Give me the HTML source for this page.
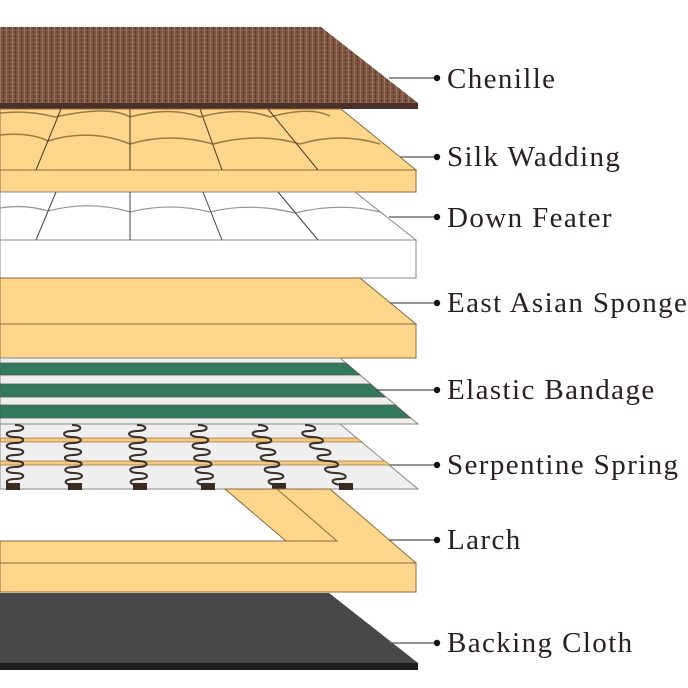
<!DOCTYPE html>
<html><head><meta charset="utf-8"><style>
html,body{margin:0;padding:0;background:#fff}
svg{display:block}
text{font-family:"Liberation Serif",serif;font-size:29px;letter-spacing:1.4px;fill:#2a2020}
</style></head><body>
<svg id="s" width="688" height="688" viewBox="0 0 688 688" xmlns="http://www.w3.org/2000/svg">
<defs>
<pattern id="ch" width="6" height="4" patternUnits="userSpaceOnUse">
<rect width="6" height="4" fill="#7b5140"/>
<rect x="0" width="1" height="4" fill="#a07560"/>
<rect x="3" width="1" height="4" fill="#5e3a2c"/>
<rect y="2" width="6" height="0.7" fill="#8e6450"/>
</pattern>
</defs>
<polygon points="0,27 321,27 418,103 418,109 0,109" fill="url(#ch)"/>
<rect x="0" y="103" width="418" height="6" fill="#4a3028"/>
<polygon points="0,109 341,109 416,170 0,170" fill="#fdd58b" stroke="#8a6a3a" stroke-width="1"/>
<rect x="0" y="170" width="416" height="22" fill="#fdd58b" stroke="#8a6a3a" stroke-width="1"/>
<g stroke="#9a7a45" stroke-width="1.5" fill="none">
<path d="M0,113 Q30,110 55,117 Q110,105 130,117 Q170,106 200,117 Q240,106 270,117 Q310,106 330,116"/>
<path d="M0,135 Q30,132 48,141 Q90,128 130,144 Q170,132 213,144 Q260,132 300,144 Q340,132 380,144"/>
</g>
<g stroke="#4a3a2a" stroke-width="1">
<line x1="61" y1="109" x2="36" y2="170"/><line x1="130" y1="109" x2="130" y2="170"/>
<line x1="200" y1="109" x2="222" y2="170"/><line x1="268" y1="109" x2="318" y2="170"/>
</g>
<polygon points="0,192 355,192 416,240 0,240" fill="#fff" stroke="#888" stroke-width="1"/>
<rect x="0" y="240" width="416" height="38" fill="#fff" stroke="#888" stroke-width="1"/>
<g stroke="#999" stroke-width="1.3" fill="none">
<path d="M0,208 Q25,204 48,211 Q90,200 130,212 Q170,202 210,212 Q250,202 295,213 Q340,202 380,212"/>
</g>
<g stroke="#444" stroke-width="1">
<line x1="56" y1="192" x2="36" y2="240"/><line x1="130" y1="192" x2="130" y2="240"/>
<line x1="203" y1="192" x2="222" y2="240"/><line x1="278" y1="192" x2="318" y2="240"/>
</g>
<polygon points="0,278 360,278 416,324 0,324" fill="#fdd58b" stroke="#8a6a3a" stroke-width="1"/>
<rect x="0" y="324" width="416" height="34" fill="#fdd58b" stroke="#8a6a3a" stroke-width="1"/>
<polygon points="0,358 340,358 418,424 0,424" fill="#eeeeec" stroke="#888" stroke-width="1"/>
<polygon points="0,363 346,363 360,375 0,375" fill="#317a5c" stroke="#555" stroke-width="0.8"/>
<polygon points="0,384 370,384 385,397 0,397" fill="#317a5c" stroke="#555" stroke-width="0.8"/>
<polygon points="0,405 395,405 410,418 0,418" fill="#317a5c" stroke="#555" stroke-width="0.8"/>
<polygon points="0,424 340,424 418,489 0,489" fill="#efefef" stroke="#888" stroke-width="1"/>
<polygon points="0,438 357,438 362,442 0,442" fill="#f5c77e" stroke="#9a7a45" stroke-width="0.8"/>
<polygon points="0,461 385,461 390,465 0,465" fill="#f5c77e" stroke="#9a7a45" stroke-width="0.8"/>
<g id="springs" stroke="#3a302a" stroke-width="2" fill="none"></g>
<g fill="#3a2a22">
<rect x="6" y="483" width="14" height="7"/><rect x="68" y="483" width="14" height="7"/>
<rect x="133" y="483" width="14" height="7"/><rect x="201" y="483" width="14" height="7"/>
<rect x="272" y="483" width="14" height="7"/><rect x="339" y="483" width="14" height="7"/>
</g>
<polygon points="0,541 286,541 225,489 330,489 416,563 0,563" fill="#fdd58b" stroke="#8a6a3a" stroke-width="1"/>
<polyline points="277,489 337,541 286,541" fill="none" stroke="#8a6a3a" stroke-width="1"/>
<rect x="0" y="563" width="416" height="29" fill="#fdd58b" stroke="#8a6a3a" stroke-width="1"/>
<polygon points="0,593 329,593 418,663 0,663" fill="#484848"/>
<rect x="0" y="663" width="418" height="7" fill="#1e1e1e"/>
<g stroke="#555" stroke-width="1.3">
<line x1="389" y1="78" x2="436" y2="78"/><line x1="400" y1="157" x2="436" y2="157"/>
<line x1="389" y1="217" x2="436" y2="217"/><line x1="390" y1="303" x2="436" y2="303"/>
<line x1="375" y1="390" x2="436" y2="390"/><line x1="390" y1="465" x2="436" y2="465"/>
<line x1="389" y1="540" x2="436" y2="540"/><line x1="389" y1="643" x2="436" y2="643"/>
</g>
<g fill="#111">
<circle cx="437" cy="78" r="3.2"/><circle cx="437" cy="157" r="3.2"/><circle cx="437" cy="217" r="3.2"/>
<circle cx="437" cy="303" r="3.2"/><circle cx="437" cy="390" r="3.2"/><circle cx="437" cy="465" r="3.2"/>
<circle cx="437" cy="540" r="3.2"/><circle cx="437" cy="643" r="3.2"/>
</g>
<text x="447" y="88">Chenille</text>
<text x="447" y="166">Silk Wadding</text>
<text x="447" y="227">Down Feater</text>
<text x="447" y="312">East Asian Sponge</text>
<text x="447" y="399">Elastic Bandage</text>
<text x="447" y="474">Serpentine Spring</text>
<text x="447" y="549">Larch</text>
<text x="447" y="652">Backing Cloth</text>
</svg>
<script>
var g=document.getElementById('springs');
var sp=[[15,15],[72,74],[137,139],[198,206],[258,278],[305,343]];
sp.forEach(function(s){
 var y0=425,y1=485,n=10,h=(y1-y0)/n,d='';
 for(var i=0;i<=n;i++){
  var x=s[0]+(s[1]-s[0])*(i/n),y=y0+i*h;
  if(i==0){d='M'+x+','+y;continue;}
  var xp=s[0]+(s[1]-s[0])*((i-1)/n),dir=(i%2?1:-1)*11;
  d+=' C'+(xp+dir)+','+(y-h)+' '+(x+dir)+','+y+' '+x+','+y;
 }
 var p=document.createElementNS('http://www.w3.org/2000/svg','path');
 p.setAttribute('d',d);g.appendChild(p);
});
</script>
</body></html>
